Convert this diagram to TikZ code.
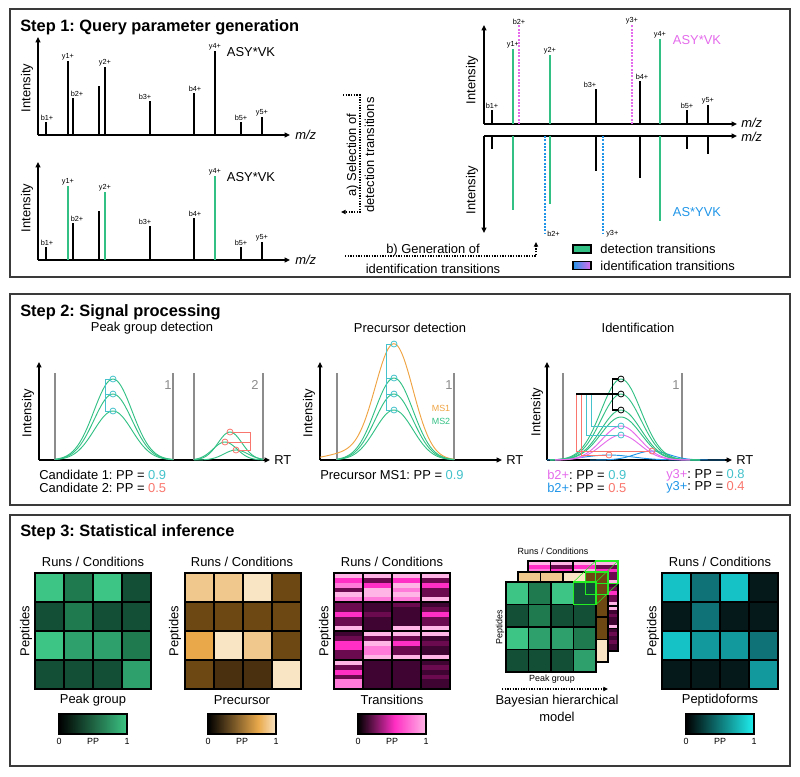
\documentclass[tikz,border=0pt]{standalone}
\usepackage{fontspec}
\setmainfont{Liberation Sans}
\usetikzlibrary{arrows.meta,positioning,calc}
\frenchspacing

\definecolor{detgreen}{HTML}{33C084}
\definecolor{idmag}{HTML}{E46BEB}
\definecolor{idblue}{HTML}{2196E8}
\definecolor{ppcyan}{HTML}{45C2CB}
\definecolor{ppred}{HTML}{F8766D}
\definecolor{msorange}{HTML}{EFA342}
\definecolor{frame}{HTML}{3A3A3A}
\definecolor{hlgreen}{HTML}{22EE22}
\definecolor{gA}{HTML}{3CC584}
\definecolor{gB}{HTML}{2EA06C}
\definecolor{gC}{HTML}{1F7A50}
\definecolor{gD}{HTML}{134F36}
\definecolor{pL}{HTML}{F0C88E}
\definecolor{pC}{HTML}{F9E4C4}
\definecolor{pO}{HTML}{E9A94B}
\definecolor{pB}{HTML}{6E4812}
\definecolor{pK}{HTML}{4A300E}
\definecolor{tL}{HTML}{FFB6E6}
\definecolor{tP}{HTML}{FF7AD9}
\definecolor{tH}{HTML}{FF2EC4}
\definecolor{tD}{HTML}{6B0A4E}
\definecolor{tV}{HTML}{3F0431}
\definecolor{fA}{HTML}{15C3C7}
\definecolor{fB}{HTML}{12999E}
\definecolor{fC}{HTML}{0E7277}
\definecolor{fD}{HTML}{05191B}
\definecolor{fE}{HTML}{1EF0F0}

\pgfdeclarehorizontalshading{pgbar}{100bp}{color(0bp)=(black); color(25bp)=(black); color(75bp)=(gA); color(100bp)=(gA)}
\pgfdeclarehorizontalshading{prbar}{100bp}{color(0bp)=(black); color(25bp)=(black); color(62bp)=(pO); color(75bp)=(pC); color(100bp)=(pC)}
\pgfdeclarehorizontalshading{trbar}{100bp}{color(0bp)=(black); color(25bp)=(black); color(52bp)=(tH); color(75bp)=(tL); color(100bp)=(tL)}
\pgfdeclarehorizontalshading{pfbar}{100bp}{color(0bp)=(black); color(25bp)=(black); color(75bp)=(fE); color(100bp)=(fE)}

\begin{document}
\begin{tikzpicture}[x=0.75pt, y=-0.75pt,
  every node/.style={inner sep=0pt, font=\fontsize{9.7}{11.6}\selectfont},
  steptitle/.style={anchor=base west, font=\fontsize{12.3}{14}\selectfont\bfseries},
  tinylbl/.style={font=\fontsize{5.5}{6.5}\selectfont},
  smalllbl/.style={font=\fontsize{6.7}{8}\selectfont},
  twoline/.style={align=center, font=\fontsize{9.7}{12.5}\selectfont},
  panel/.style={draw=frame, line width=1.1pt},
  axisline/.style={-{Triangle[length=4pt, width=3.6pt]}, line width=0.8pt},
  peak/.style={line width=0.8pt},
  idpeak/.style={line width=0.8pt, dash pattern=on 1.5pt off 1pt},
  guide/.style={dash pattern=on 1pt off 1pt, line width=0.8pt, -{Triangle[length=3.5pt, width=3.2pt]}},
  rtwin/.style={draw=black!45, line width=0.8pt},
  xic/.style={line width=0.7pt},
  apex/.style={circle, draw, line width=0.6pt, minimum size=4.5pt},
  bracket/.style={line width=0.7pt},
  cellbox/.style={draw=black, line width=1pt},
  cbar/.style={draw=black, line width=0.8pt},
  declare function={bell(\t,\m,\s)=exp(-0.5*((\t-\m)/\s)^2);},
]
\useasboundingbox (0,0) rectangle (800,776);
\draw[panel] (10,9) rectangle (790,277);
\draw[panel] (10,294) rectangle (790,505);
\draw[panel] (10,515) rectangle (790,766);
\node[steptitle] (t1) at (20,31) {Step 1: Query parameter generation};
\node[steptitle] (t2) at (20,316) {Step 2: Signal processing};
\node[steptitle] (t3) at (20,536) {Step 3: Statistical inference};

% step 1, library spectra
\foreach \sy in {135,260} {
  \draw[axisline] (38,\sy) -- (38,{\sy-98});
  \draw[axisline] (38,\sy) -- (290,\sy);
}
\node[anchor=west] (mz1) at (295,135) {\itshape m/z};
\node[anchor=west] (mz2) at (295,260) {\itshape m/z};
\node[rotate=90] (in1) at (27,88) {Intensity};
\node[rotate=90] (in2) at (27,208) {Intensity};
\node (pep1) at (251,52) {ASY*VK};
\node (pep2) at (251,177) {ASY*VK};
\foreach \px/\py/\lx/\pl/\pc [count=\k] in {46/122/47/b1+/black, 68/61/68/y1+/detgreen, 73/98/77/b2+/black, 99/86/99//black, 105/67/105/y2+/detgreen, 150/101/145/b3+/black, 194/93/195/b4+/black, 215/51/215/y4+/detgreen, 241/122/241/b5+/black, 262/117/262/y5+/black} {
  \draw[peak] (\px,135) -- (\px,\py);
  \node[tinylbl, anchor=south] (ua\k) at (\lx,{\py-1}) {\pl};
  \draw[peak, color=\pc] (\px,260) -- (\px,{\py+125});
  \node[tinylbl, anchor=south] (la\k) at (\lx,{\py+124}) {\pl};
}

% step 1, mirrored spectra
\draw[axisline, line width=1.1pt] (484,124) -- (484,25);
\draw[axisline, line width=1.1pt] (484,124) -- (737,124);
\draw[axisline, line width=1.1pt] (484,136) -- (737,136);
\draw[axisline, line width=1.1pt] (484,136) -- (484,233);
\node[anchor=west] (mz3) at (741,123) {\itshape m/z};
\node[anchor=west] (mz4) at (741,137) {\itshape m/z};
\node[rotate=90] (in3) at (472,80) {Intensity};
\node[rotate=90] (in4) at (472,190) {Intensity};
\node[text=idmag] (pep3) at (697,40) {ASY*VK};
\node[text=idblue] (pep4) at (697,212) {AS*YVK};
\foreach \px/\py/\qy/\lx/\pl/\pc [count=\k] in {492/110/149/492/b1+/black, 513/49/210/513/y1+/detgreen, 550/55/204/550/y2+/detgreen, 596/89/171/590/b3+/black, 640/81/178/642/b4+/black, 660/39/221/660/y4+/detgreen, 687/110/149/687/b5+/black, 708/105/154/708/y5+/black} {
  \draw[peak, color=\pc] (\px,124) -- (\px,\py);
  \node[tinylbl, anchor=south] (ma\k) at (\lx,{\py-1}) {\pl};
  \draw[peak, color=\pc] (\px,136) -- (\px,\qy);
}
\draw[idpeak, idmag] (519,124) -- (519,25) node[tinylbl, anchor=south, text=black] (mb2) {b2+};
\draw[idpeak, idmag] (632,124) -- (632,25) node[tinylbl, anchor=south, text=black] (my3) {y3+};
\draw[idpeak, idblue] (545,136) -- (545,233);
\draw[idpeak, idblue] (603,136) -- (603,233);
\node[tinylbl, anchor=west] (nb2) at (547,234) {b2+};
\node[tinylbl, anchor=west] (ny3) at (606,234) {y3+};

\node[draw, line width=0.8pt, fill=detgreen, minimum width=13.5pt, minimum height=6pt] (lg1) at (582,249) {};
\node[right=6.5pt of lg1] (lgt1) {detection transitions};
\node[draw, line width=0.8pt, left color=idblue, right color=idmag, minimum width=13.5pt, minimum height=6pt] (lg2) at (582,265.5) {};
\node[right=6.5pt of lg2] (lgt2) {identification transitions};

\coordinate (ga0) at (343,95);
\coordinate (ga1) at (341,212);
\draw[guide] (ga0) -- (360,95) -- (360,212) -- (ga1);
\node[twoline, rotate=90, font=\fontsize{9.7}{13.5}\selectfont] (ga) at (360.5,155) {a) Selection of\\detection transitions};
\coordinate (gb0) at (345,256);
\coordinate (gb1) at (536,242);
\draw[guide] (gb0) -- (536,256) -- (gb1);
\node[twoline, font=\fontsize{9.7}{15}\selectfont] (gb) at (433,259) {b) Generation of\\identification transitions};

% step 2, peak group detection
\node (pgd) at (152,328) {Peak group detection};
\draw[axisline] (39,460) -- (39,362);
\draw[axisline] (39,460) -- (270,460);
\node[anchor=west] (rt1) at (274,460) {RT};
\node[rotate=90] (in5) at (28,413) {Intensity};
\foreach \wx in {55,173,194,263} \draw[rtwin] (\wx,373) -- (\wx,460);
\node[text=black!45] (w1) at (168,385) {1};
\node[text=black!45] (w2) at (255,385) {2};
\foreach \h [count=\k] in {81,66,49} {
  \draw[xic, detgreen] plot[domain=55:173, samples=60] (\x,{460-\h*bell(\x,113,19)});
  \node[apex, draw=ppcyan] (ca\k) at (113,{460-\h}) {};
}
\draw[bracket, ppcyan] (ca1.west) -- ++(-4,0) |- (ca3.west) (ca2.west) -- ++(-4,0);
\foreach \m/\h [count=\k] in {230/28, 225/18, 236/10} {
  \draw[xic, detgreen] plot[domain=194:263, samples=50] (\x,{460-\h*bell(\x,\m,12)});
  \node[apex, draw=ppred] (cb\k) at (\m,{460-\h}) {};
}
\draw[bracket, ppred] (cb1.east) -- (250,432) |- (cb3.east) (cb2.east) -- (250,442);
\node[anchor=west] (cand1) at (39,475) {Candidate 1: PP = \textcolor{ppcyan}{0.9}};
\node[anchor=west] (cand2) at (39,487.5) {Candidate 2: PP = \textcolor{ppred}{0.5}};

% step 2, precursor detection
\node (prd) at (410,328) {Precursor detection};
\draw[axisline] (320,460) -- (320,362);
\draw[axisline] (320,460) -- (502,460);
\node[anchor=west] (rt2) at (506,460) {RT};
\node[rotate=90] (in6) at (309,413) {Intensity};
\foreach \wx in {337,454} \draw[rtwin] (\wx,373) -- (\wx,460);
\node[text=black!45] (w3) at (449,385) {1};
\draw[xic, msorange] plot[domain=320:454, samples=70] (\x,{460-116*bell(\x,394,19)-6*bell(\x,345,20)});
\node[apex, draw=ppcyan] (cp0) at (394,344) {};
\foreach \h [count=\k] in {82,66,50} {
  \draw[xic, detgreen] plot[domain=337:454, samples=60] (\x,{460-\h*bell(\x,394,19)});
  \node[apex, draw=ppcyan] (cp\k) at (394,{460-\h}) {};
}
\draw[bracket, ppcyan] (cp0.west) -- ++(-4,0) |- (cp3.west) (cp1.west) -- ++(-4,0) (cp2.west) -- ++(-4,0);
\node[smalllbl, text=msorange] (ms1) at (441,408) {MS1};
\node[smalllbl, text=detgreen] (ms2) at (441,421) {MS2};
\node[anchor=west] (prms) at (320,475) {Precursor MS1: PP = \textcolor{ppcyan}{0.9}};

% step 2, identification
\node (idt) at (638,328) {Identification};
\draw[axisline] (547,460) -- (547,362);
\draw[axisline] (547,460) -- (732,460);
\node[anchor=west] (rt3) at (736,460) {RT};
\node[rotate=90] (in7) at (537,412) {Intensity};
\foreach \wx in {563,682} \draw[rtwin] (\wx,373) -- (\wx,460);
\node[text=black!45] (w4) at (676,385) {1};
\draw[xic, idblue] plot[domain=547:700, samples=60] (\x,{460-5*bell(\x,609,24)});
\draw[xic, idblue] plot[domain=590:725, samples=60] (\x,{460-9*bell(\x,652,17)});
\foreach \h in {81,66,50,43}
  \draw[xic, detgreen] plot[domain=550:700, samples=60] (\x,{460-\h*bell(\x,621,20)});
\foreach \h in {34,25}
  \draw[xic, idmag] plot[domain=555:690, samples=60] (\x,{460-\h*bell(\x,621,19)});
\foreach \h [count=\k] in {81,66,50} \node[apex] (id\k) at (621,{460-\h}) {};
\node[apex, draw=ppcyan] (im1) at (621,426) {};
\node[apex, draw=ppcyan] (im2) at (621,435) {};
\node[apex, draw=ppred] (ib1) at (609,455) {};
\node[apex, draw=ppred] (ib2) at (652,451) {};
\draw[bracket, ppred] (576,394) |- (ib2.west) (581,394) |- (ib1.west);
\draw[bracket, ppcyan] (591,394) |- (im1.west) (586,394) |- (im2.west);
\draw[bracket, line width=0.9pt] (id1.west) -- ++(-5,0) |- (id3.west) (id2.west) -- (576,394);
\node[anchor=west] (idb2a) at (547,475) {\textcolor{idmag}{b2+}: PP = \textcolor{ppcyan}{0.9}};
\node[anchor=west] (idb2b) at (547,487.5) {\textcolor{idblue}{b2+}: PP = \textcolor{ppred}{0.5}};
\node[anchor=west] (idy3a) at (666,475) {\textcolor{idmag}{y3+}: PP = \textcolor{ppcyan}{0.8}};
\node[anchor=west] (idy3b) at (666,487.5) {\textcolor{idblue}{y3+}: PP = \textcolor{ppred}{0.4}};

% step 3, heatmaps
\foreach \hx/\hy/\hs in {334/573/29, 528/561/22.5} {
  \foreach \cell [count=\i from 0] in {{L,H,P,D,L,P},{L,D,H,L,L,P},{L,H,L,P,L,P},{L,D,H,D,D,L},
      {D,D,H,D,D,L},{V,V,D,V,V,V},{D,V,V,V,V,L},{V,D,H,D,D,L},
      {V,D,H,H,D,D},{L,D,L,P,P,L},{L,D,H,D,D,L},{L,V,D,V,V,L},
      {L,D,H,D,P,P},{V,V,V,V,V,V},{V,V,V,V,V,V},{V,D,V,D,V,V}} {
    \pgfmathtruncatemacro{\ci}{mod(\i,4)}
    \pgfmathtruncatemacro{\cj}{div(\i,4)}
    \foreach \s [count=\j from 0] in \cell
      \fill[fill=t\s] ({\hx+\hs*\ci},{\hy+\hs*\cj+\hs*\j/6}) rectangle ++(\hs,{\hs/6+0.3});
    \draw[cellbox] ({\hx+\hs*\ci},{\hy+\hs*\cj}) rectangle ++(\hs,\hs);
  }
}
\foreach \hx/\hy/\hs/\hl in {35/573/29/{gA,gC,gA,gD,gD,gC,gD,gD,gA,gB,gB,gC,gD,gD,gD,gB},
    185/573/29/{pL,pL,pC,pB,pB,pB,pB,pB,pO,pC,pL,pB,pB,pK,pK,pC},
    662/573/29/{fA,fC,fA,fD,fD,fC,fD,fD,fA,fB,fB,fC,fD,fD,fD,fB},
    518/572/22.5/{pL,pL,pC,pB,pB,pB,pB,pB,pO,pC,pL,pB,pB,pK,pK,pC},
    506/582/22.5/{gA,gC,gA,gD,gD,gC,gD,gD,gA,gB,gB,gC,gD,gD,gD,gB}} {
  \foreach \c [count=\i from 0] in \hl {
    \pgfmathtruncatemacro{\ci}{mod(\i,4)}
    \pgfmathtruncatemacro{\cj}{div(\i,4)}
    \draw[cellbox, fill=\c] ({\hx+\hs*\ci},{\hy+\hs*\cj}) rectangle ++(\hs,\hs);
  }
}
\draw[hlgreen, line width=1.1pt] (573.5,582) rectangle ++(22.5,22.5) (585.5,572) rectangle ++(22.5,22.5) (595.5,561) rectangle ++(22.5,22.5);
\draw[hlgreen, line width=0.4pt] (573.5,582) -- (595.5,561) (596,582) -- (618,561) (596,604.5) -- (618,583.5);

\foreach \hx/\hn/\sh [count=\k] in {93/Peak group/pgbar, 242/Precursor/prbar, 392/Transitions/trbar, 720/Peptidoforms/pfbar} {
  \node (rc\k) at (\hx,562) {Runs / Conditions};
  \node[rotate=90] (pe\k) at ({\hx-67},631) {Peptides};
  \node (hn\k) at (\hx,700) {\hn};
  \draw[cbar, shade, shading=\sh] ({\hx-34},714) rectangle ({\hx+34},734);
  \node[smalllbl] (cz\k) at ({\hx-34},741) {0};
  \node[smalllbl] (cp\k) at (\hx,741) {PP};
  \node[smalllbl] (co\k) at ({\hx+34},741) {1};
}
\node[smalllbl] (bhrc) at (553,551) {Runs / Conditions};
\node[smalllbl, rotate=90] (bhpe) at (500,627) {Peptides};
\node[smalllbl] (bhpg) at (552,679) {Peak group};
\coordinate (bh0) at (502,689);
\coordinate (bh1) at (608,689);
\draw[guide] (bh0) -- (bh1);
\node[twoline, font=\fontsize{9.7}{12.8}\selectfont] (bhm) at (557,708.5) {Bayesian hierarchical\\model};
\end{tikzpicture}
\end{document}
